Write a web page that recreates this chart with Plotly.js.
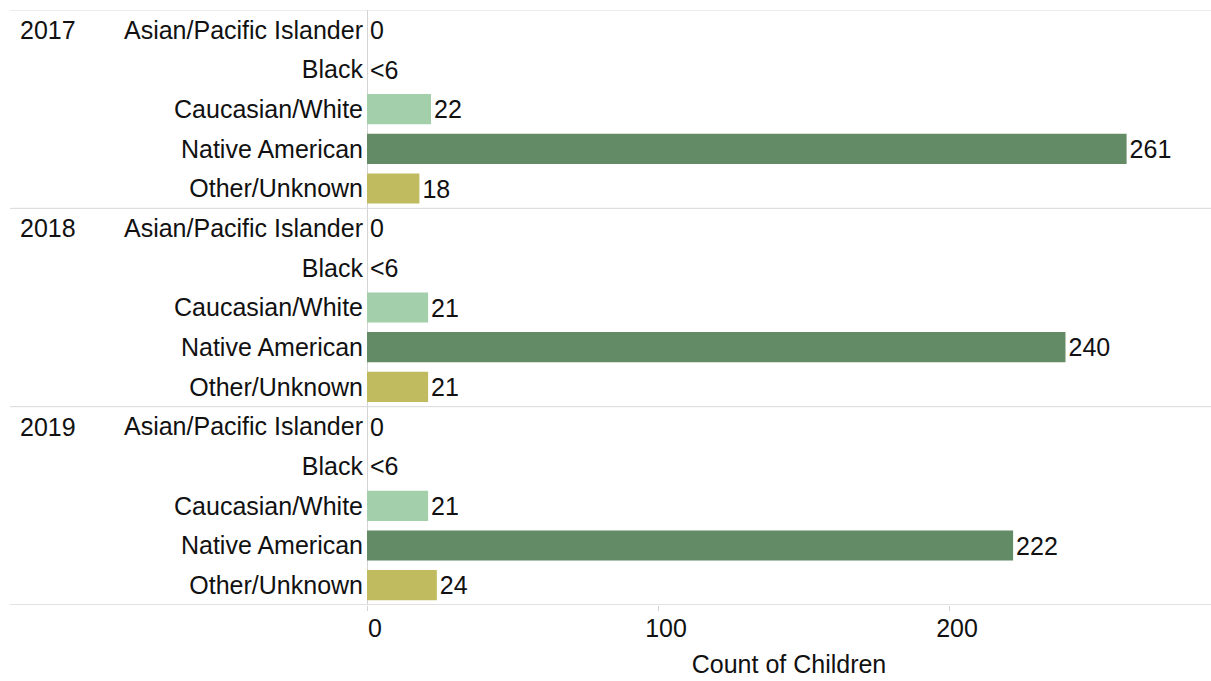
<!DOCTYPE html>
<html>
<head>
<meta charset="utf-8">
<script src="https://cdn.plot.ly/plotly-3.0.1.min.js"></script>
<style>html,body{margin:0;padding:0;background:#fff;}#chart{width:1211px;height:681px;}</style>
</head>
<body>
<div id="chart"></div>
<script>
var years = ['2017', '2018', '2019'];
var ethnicities = ['Asian/Pacific Islander', 'Black', 'Caucasian/White', 'Native American', 'Other/Unknown'];
// counts per year, in ethnicity order (Black values suppressed as "<6", drawn at 0)
var counts2017 = [0, 0, 22, 261, 18];
var counts2018 = [0, 0, 21, 240, 21];
var counts2019 = [0, 0, 21, 222, 24];
var labels2017 = ['0', '<6', '22', '261', '18'];
var labels2018 = ['0', '<6', '21', '240', '21'];
var labels2019 = ['0', '<6', '21', '222', '24'];
var ethColors = ['#a3cfab', '#a3cfab', '#a3cfab', '#638b65', '#c1bb60'];
var xTicks = [0, 100, 200];

var allCounts = [counts2017, counts2018, counts2019];
var allLabels = [labels2017, labels2018, labels2019];

var keys = [], vals = [], texts = [], cols = [], ticktext = [];
years.forEach(function (yr, i) {
  ethnicities.forEach(function (eth, j) {
    keys.push(yr + ' ' + eth);
    vals.push(allCounts[i][j]);
    texts.push(allLabels[i][j]);
    cols.push(ethColors[j]);
    ticktext.push(eth);
  });
});

var FONT = 'Liberation Sans, Arial, sans-serif';
var FS = 25;

var trace = {
  type: 'bar',
  orientation: 'h',
  x: vals,
  y: keys,
  text: texts,
  textposition: 'outside',
  constraintext: 'none',
  cliponaxis: false,
  textfont: {family: FONT, size: FS, color: '#111'},
  marker: {color: cols, line: {width: 0}},
  width: 0.76,
  hoverinfo: 'x+y'
};

var n = keys.length;
var leftPaper = (10 - 367) / 844;
var shapes = [-0.5, 4.5, 9.5, n - 0.5].map(function (yv, k) {
  return {type: 'line', xref: 'paper', yref: 'y', x0: leftPaper, x1: 1, y0: yv, y1: yv,
          line: {color: '#d9d9d9', width: (k === 3 ? 1.5 : 1)}};
});

var annotations = years.map(function (yr, i) {
  return {xref: 'paper', yref: 'y', x: (18 - 367) / 844, y: keys[i * ethnicities.length],
          xanchor: 'left', yanchor: 'middle', text: yr, showarrow: false,
          font: {family: FONT, size: FS, color: '#111'}};
});

var layout = {
  width: 1211, height: 681,
  margin: {l: 367, r: 0, t: 10, b: 76},
  paper_bgcolor: '#fff', plot_bgcolor: '#fff',
  showlegend: false,
  font: {family: FONT, size: FS, color: '#111'},
  xaxis: {
    range: [0, 290],
    tickvals: xTicks,
    ticktext: xTicks.map(String),
    showgrid: false,
    zeroline: true, zerolinecolor: '#d4d4d4', zerolinewidth: 1,
    showline: false,
    ticks: 'outside', ticklen: 5, tickcolor: '#d4d4d4',
    ticklabelshift: 8,
    ticklabelstandoff: -4,
    tickfont: {family: FONT, size: FS, color: '#111'},
    title: {text: 'Count of Children', font: {family: FONT, size: FS, color: '#111'}, standoff: 14},
    fixedrange: true
  },
  yaxis: {
    type: 'category',
    categoryorder: 'array', categoryarray: keys,
    range: [n - 0.5, -0.5],
    tickvals: keys, ticktext: ticktext,
    showgrid: false, zeroline: false, showline: false,
    ticks: '', ticklen: 0,
    ticklabelstandoff: 3,
    tickfont: {family: FONT, size: FS, color: '#111'},
    fixedrange: true
  },
  shapes: shapes,
  annotations: annotations
};

Plotly.newPlot('chart', [trace], layout, {displayModeBar: false, staticPlot: true});
</script>
</body>
</html>
